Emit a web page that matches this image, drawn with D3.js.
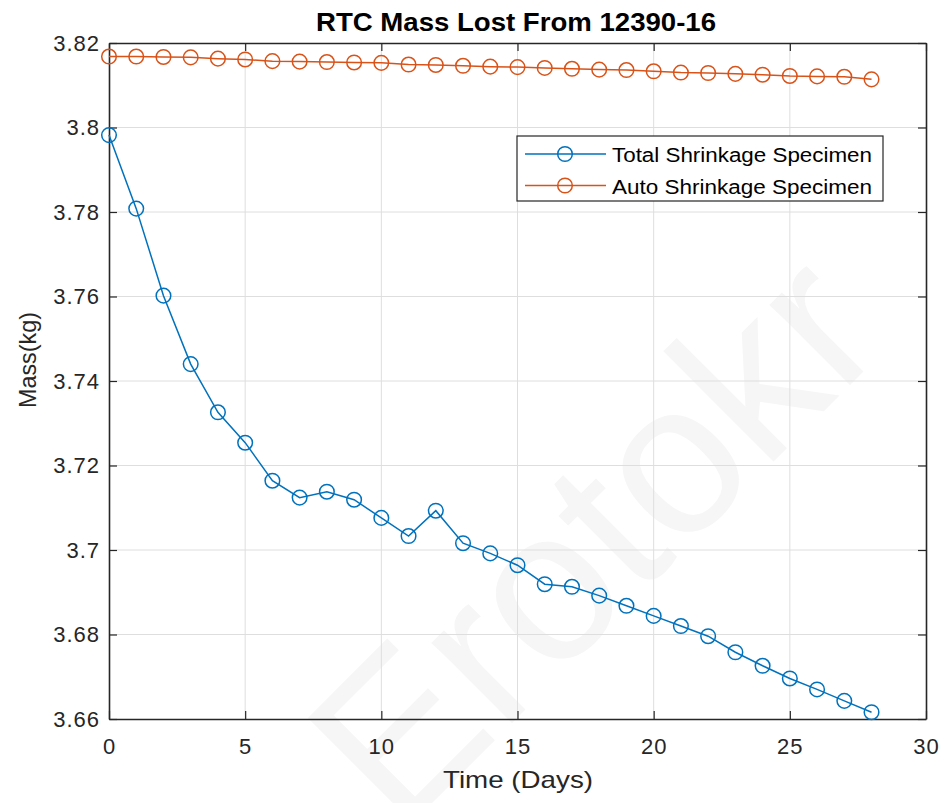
<!DOCTYPE html>
<html>
<head>
<meta charset="utf-8">
<script src="https://cdn.jsdelivr.net/npm/d3@7"></script>
<style>
  body { margin: 0; background: #fff; }
  svg { font-family: "Liberation Sans", Arial, sans-serif; }
</style>
</head>
<body>
<div id="chart"></div>
<script>
let days = d3.range(0, 29);

let totalShrinkage = [3.7982, 3.7808, 3.7602, 3.7440, 3.7326, 3.7254, 3.7164, 3.7124, 3.7138, 3.7119,
	3.7076, 3.7033, 3.7093, 3.7016, 3.6992, 3.6964, 3.6919, 3.6913, 3.6892, 3.6868,
	3.6844, 3.6820, 3.6796, 3.6758, 3.6726, 3.6696, 3.6670, 3.6643, 3.6616];

let autoShrinkage = [3.8168, 3.8168, 3.8167, 3.8166, 3.8163, 3.8161, 3.8157, 3.8156, 3.8155, 3.8154,
	3.8153, 3.8149, 3.8148, 3.8146, 3.8144, 3.8143, 3.8141, 3.8139, 3.8137, 3.8136,
	3.8133, 3.8130, 3.8129, 3.8127, 3.8125, 3.8122, 3.8121, 3.8120, 3.8114];

let seriesNames = ["Total Shrinkage Specimen", "Auto Shrinkage Specimen"];
let seriesColors = ["#0072BD", "#D95319"];
let xTicks = [0, 5, 10, 15, 20, 25, 30];
let yTicks = [3.66, 3.68, 3.70, 3.72, 3.74, 3.76, 3.78, 3.80, 3.82];

let width = 946, height = 803;
let margin = {top: 43, right: 20, bottom: 84, left: 109};
let axisColor = "#262626";

let svg = d3.select("#chart").append("svg")
	.attr("width", width)
	.attr("height", height);

let x = d3.scaleLinear().domain([0, 30]).range([margin.left, width - margin.right]);
let y = d3.scaleLinear().domain([3.66, 3.82]).range([height - margin.bottom, margin.top]);

// faint watermark
svg.append("text")
	.attr("transform", "translate(400,835) rotate(-45)")
	.attr("font-size", 215)
	.attr("fill", "#f6f6f6")
	.text("Erotokr");

// grid
let grid = svg.append("g");
grid.selectAll(".gx").data(xTicks.slice(1, -1)).enter().append("line")
	.attr("x1", (d) => x(d)).attr("x2", (d) => x(d))
	.attr("y1", y(3.66)).attr("y2", y(3.82))
	.attr("stroke", "#dedede").attr("stroke-width", 1);
grid.selectAll(".gy").data(yTicks.slice(1, -1)).enter().append("line")
	.attr("x1", x(0)).attr("x2", x(30))
	.attr("y1", (d) => y(d)).attr("y2", (d) => y(d))
	.attr("stroke", "#dedede").attr("stroke-width", 1);

// axes (inward ticks, box on)
let fmtY = (d) => d3.format(".2f")(d).replace(/0$/, "").replace(/\.$/, "");

let styleAxis = (g) => {
	g.select(".domain").attr("stroke", axisColor).attr("stroke-width", 1.6);
	g.selectAll(".tick line").attr("stroke", axisColor).attr("stroke-width", 1.2);
	g.selectAll(".tick text").attr("fill", axisColor).attr("font-size", 22).attr("letter-spacing", 1);
};

svg.append("g")
	.attr("transform", "translate(0," + y(3.66) + ")")
	.call(d3.axisBottom(x).tickValues(xTicks).tickSizeInner(-8).tickSizeOuter(0).tickPadding(19))
	.call(styleAxis);

svg.append("g")
	.attr("transform", "translate(" + x(0) + ",0)")
	.call(d3.axisLeft(y).tickValues(yTicks).tickFormat(fmtY).tickSizeInner(-8).tickSizeOuter(0).tickPadding(9))
	.call(styleAxis);

svg.append("g")
	.attr("transform", "translate(0," + y(3.82) + ")")
	.call(d3.axisTop(x).tickValues(xTicks).tickSizeInner(-8).tickSizeOuter(0).tickFormat(""))
	.call(styleAxis);

svg.append("g")
	.attr("transform", "translate(" + x(30) + ",0)")
	.call(d3.axisRight(y).tickValues(yTicks).tickSizeInner(-8).tickSizeOuter(0).tickFormat(""))
	.call(styleAxis);

// series
let series = [totalShrinkage, autoShrinkage];
let line = d3.line().x((d, i) => x(days[i])).y((d) => y(d));

series.forEach((vals, k) => {
	let g = svg.append("g");
	g.append("path")
		.datum(vals)
		.attr("d", line)
		.attr("fill", "none")
		.attr("stroke", seriesColors[k])
		.attr("stroke-width", 1.5);
	g.selectAll("circle").data(vals).enter().append("circle")
		.attr("cx", (d, i) => x(days[i]))
		.attr("cy", (d) => y(d))
		.attr("r", 7.3)
		.attr("fill", "none")
		.attr("stroke", seriesColors[k])
		.attr("stroke-width", 1.5);
});

// title and labels
svg.append("text")
	.attr("x", 516).attr("y", 31)
	.attr("text-anchor", "middle")
	.attr("font-size", 25).attr("font-weight", "bold")
	.attr("textLength", 400).attr("lengthAdjust", "spacingAndGlyphs")
	.attr("fill", "#000")
	.text("RTC Mass Lost From 12390-16");

svg.append("text")
	.attr("x", 518).attr("y", 788)
	.attr("text-anchor", "middle")
	.attr("font-size", 24).attr("fill", axisColor)
	.attr("textLength", 150).attr("lengthAdjust", "spacingAndGlyphs")
	.text("Time (Days)");

svg.append("text")
	.attr("transform", "translate(36,360) rotate(-90)")
	.attr("text-anchor", "middle")
	.attr("font-size", 24).attr("fill", axisColor)
	.attr("textLength", 96).attr("lengthAdjust", "spacingAndGlyphs")
	.text("Mass(kg)");

// legend
let legend = svg.append("g").attr("transform", "translate(517,136)");
legend.append("rect")
	.attr("width", 366).attr("height", 65)
	.attr("fill", "#fff").attr("stroke", axisColor).attr("stroke-width", 1.2);

seriesNames.forEach((name, k) => {
	let row = legend.append("g").attr("transform", "translate(0," + (18 + k * 31.5) + ")");
	row.append("line")
		.attr("x1", 8).attr("x2", 89)
		.attr("stroke", seriesColors[k]).attr("stroke-width", 1.5);
	row.append("circle")
		.attr("cx", 48).attr("r", 7.3)
		.attr("fill", "none").attr("stroke", seriesColors[k]).attr("stroke-width", 1.5);
	row.append("text")
		.attr("x", 95).attr("y", 8)
		.attr("font-size", 20).attr("fill", "#000")
		.attr("textLength", 260).attr("lengthAdjust", "spacingAndGlyphs")
		.text(name);
});
</script>
</body>
</html>
